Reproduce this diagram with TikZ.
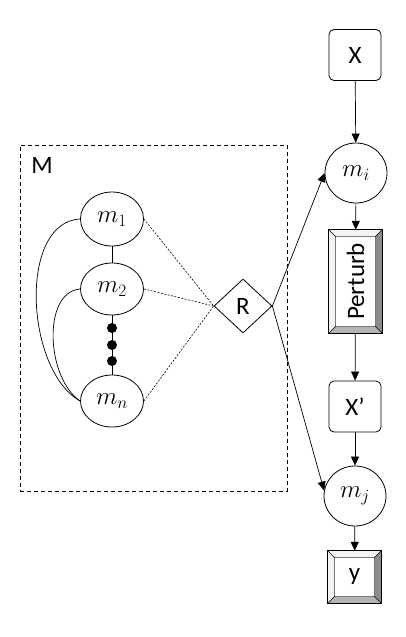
\documentclass[tikz,border=0pt]{standalone}
\usepackage{fontspec}
\usepackage{graphicx}
\setmainfont{Carlito}
\usetikzlibrary{shapes.geometric,arrows.meta,calc}
\definecolor{bevlight}{HTML}{F4F4F4}
\definecolor{bevdark}{HTML}{8C8C8C}
\definecolor{bevmid}{HTML}{B4B4B4}
\definecolor{bevedge}{HTML}{7A7A7A}
\newcommand\bevelize[1]{%
  \fill[bevlight] (#1.north west) -- (#1.north east) -- ([shift={(-7pt,-7pt)}]#1.north east) -- ([shift={(7pt,-7pt)}]#1.north west) -- cycle;
  \fill[bevlight] (#1.north west) -- ([shift={(7pt,-7pt)}]#1.north west) -- ([shift={(7pt,7pt)}]#1.south west) -- (#1.south west) -- cycle;
  \fill[bevdark] (#1.north east) -- (#1.south east) -- ([shift={(-7pt,7pt)}]#1.south east) -- ([shift={(-7pt,-7pt)}]#1.north east) -- cycle;
  \fill[bevmid] (#1.south west) -- ([shift={(7pt,7pt)}]#1.south west) -- ([shift={(-7pt,7pt)}]#1.south east) -- (#1.south east) -- cycle;
  \draw[bevedge, line width=1pt] ([shift={(7pt,-7pt)}]#1.north west) rectangle ([shift={(-7pt,7pt)}]#1.south east);
  \draw[line width=0.6pt] (#1.north west) -- ([shift={(7pt,-7pt)}]#1.north west)
    (#1.north east) -- ([shift={(-7pt,-7pt)}]#1.north east)
    (#1.south west) -- ([shift={(7pt,7pt)}]#1.south west)
    (#1.south east) -- ([shift={(-7pt,7pt)}]#1.south east);
  \draw[line width=0.9pt] (#1.north west) rectangle (#1.south east);
}
\begin{document}
\begin{tikzpicture}[x=1pt,y=-1pt,
  txt/.style={font=\fontsize{25}{30}\selectfont},
  box/.style={txt, draw, rounded corners=5pt, minimum width=52pt, minimum height=51pt, line width=0.8pt, inner sep=0pt},
  ell/.style={txt, draw, ellipse, minimum width=62pt, minimum height=60pt, line width=0.8pt, inner sep=0pt},
  bevbox/.style={txt, fill=white, rectangle, inner sep=0pt},
  diam/.style={txt, draw, diamond, minimum width=58pt, minimum height=54pt, line width=0.8pt, inner sep=0pt},
  arr/.style={-{Triangle[length=9pt,width=8pt]}, line width=0.7pt},
  link/.style={line width=0.7pt},
  dotlink/.style={line width=0.6pt, dash pattern=on 2pt off 1.5pt},
  bigdot/.style={circle, fill=black, inner sep=0pt, minimum size=10pt}
]
\useasboundingbox (0,0) rectangle (406,637);

% right column
\node[box] (X) at (355,55) {X};
\node[ell] (mi) at (356,173) {$m_i$};
\node[bevbox, minimum width=53pt, minimum height=103pt] (P) at (355.5,281.5) {\rotatebox{90}{Perturb}};
\node[box] (Xp) at (355,406.5) {X’};
\node[ell] (mj) at (355,496) {$m_j$};
\node[bevbox, minimum width=53pt, minimum height=52pt] (Y) at (354.5,577) {y};
\bevelize{P}
\bevelize{Y}

% left group
\node[draw, dashed, dash pattern=on 4pt off 3pt, line width=0.8pt, minimum width=267pt, minimum height=346pt, inner sep=0pt] (M) at (153.5,318) {};
\node[txt] (Mlabel) at (42,165) {M};
\node[ell, minimum width=63pt, minimum height=54pt] (m1) at (112,219) {$m_1$};
\node[ell, minimum width=63pt, minimum height=52pt] (m2) at (112,289) {$m_2$};
\node[ell, minimum width=63pt, minimum height=52pt] (mn) at (112,401) {$m_n$};
\node[diam] (R) at (243,306) {R};

\draw[link] (m1) -- (m2);
\draw[link] (m2) -- (mn);
\node[bigdot] (d1) at (112,328) {};
\node[bigdot] (d2) at (112,345) {};
\node[bigdot] (d3) at (112,361) {};

\draw[link] (m1.west) .. controls ($(m1.west)+(-62,3)$) and ($(mn.west)+(-55,-31)$) .. (mn.west);
\draw[link] (m2.west) .. controls ($(m2.west)+(-38,3)$) and ($(mn.west)+(-34,-23)$) .. (mn.west);

\draw[dotlink] (m1.east) -- (R.west);
\draw[dotlink] (m2.east) -- (R.west);
\draw[dotlink] (mn.east) -- (R.west);

% connectors
\draw[arr] (X) -- (mi);
\draw[arr] (mi) -- (P);
\draw[arr] (P) -- (Xp);
\draw[arr] (Xp) -- (mj);
\draw[arr] (mj) -- (Y);
\draw[arr] (R.east) -- (mi.west);
\draw[arr] (R.east) -- (mj.170);
\end{tikzpicture}
\end{document}
